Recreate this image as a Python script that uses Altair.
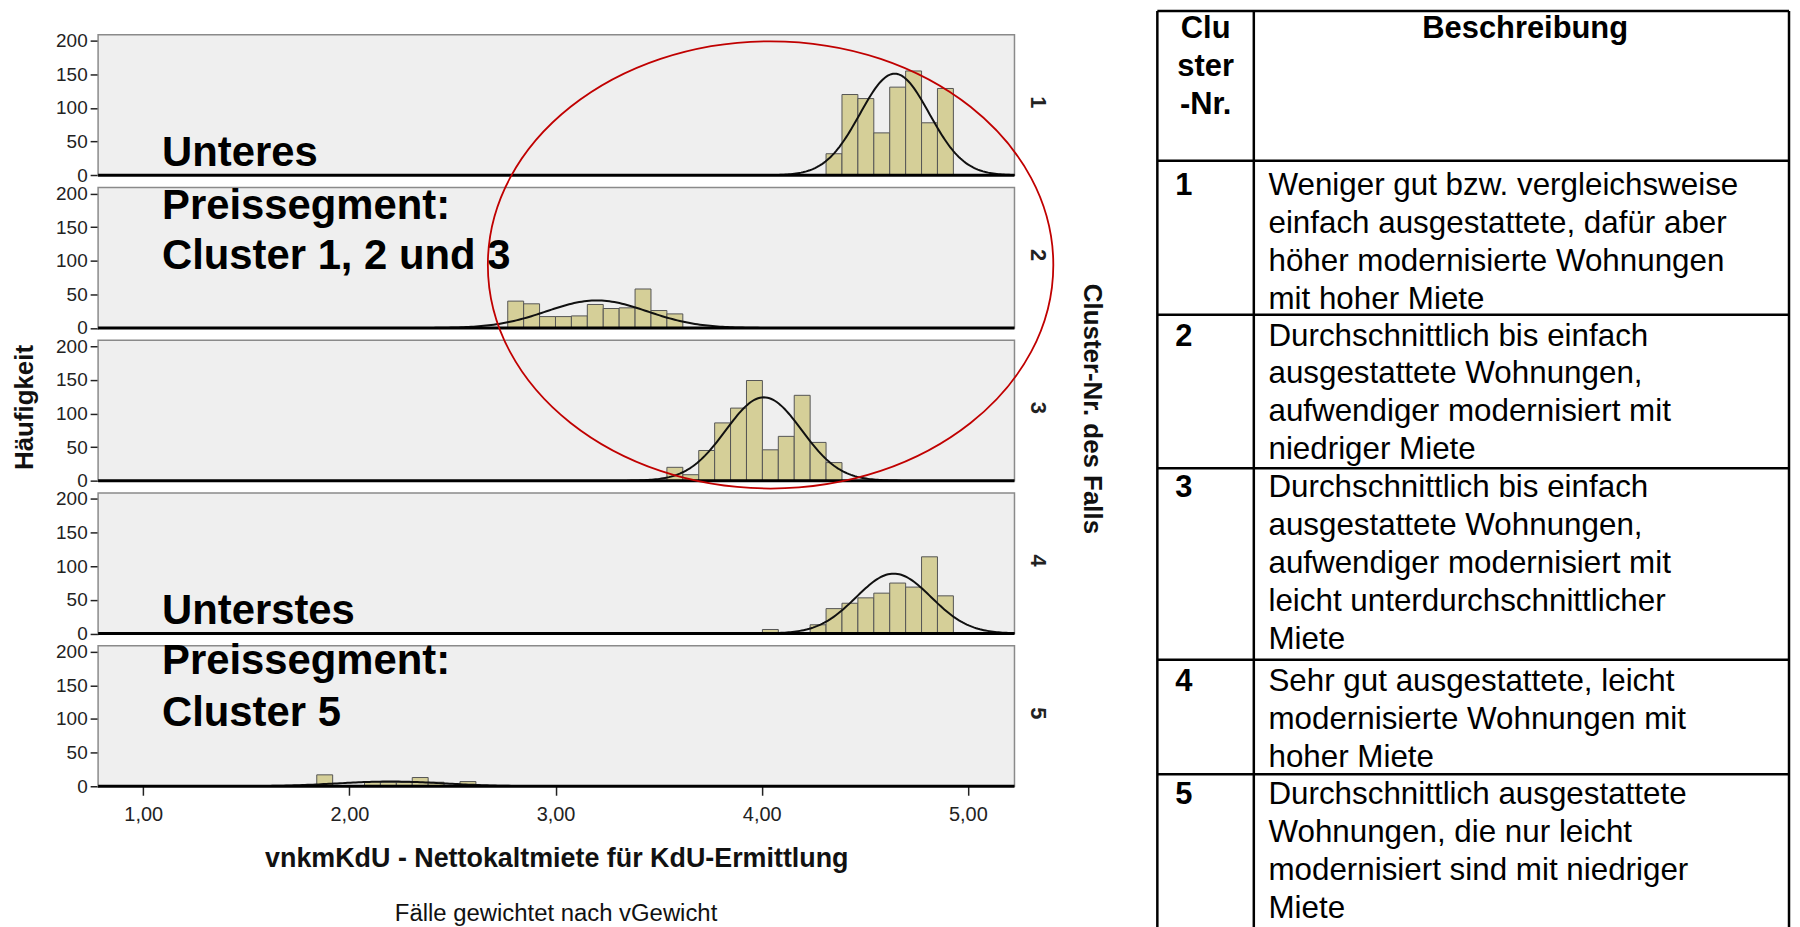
import altair as alt
import pandas as pd
import numpy as np

# ---------------- data ----------------
clusters = [1, 2, 3, 4, 5]

# histogram bins on a common grid: bin index -> lower edge = anchor + index * width
bin_width = 0.0772
bin_anchor = 3.540

c1_bins = [10, 11, 12, 13, 14, 15, 16, 17]
c1_counts = [32, 120, 114, 63, 131, 155, 78, 129]
c2_bins = [-10, -9, -8, -7, -6, -5, -4, -3, -2, -1, 0]
c2_counts = [40, 36, 17, 17, 18, 35, 29, 30, 58, 26, 21]
c3_bins = [0, 1, 2, 3, 4, 5, 6, 7, 8, 9, 10]
c3_counts = [20, 9, 45, 86, 108, 149, 46, 66, 127, 57, 27]
c4_bins = [6, 9, 10, 11, 12, 13, 14, 15, 16, 17]
c4_counts = [6, 13, 37, 45, 53, 60, 75, 69, 114, 56]
c5_bins = [-22, -19, -18, -17, -16, -15, -13]
c5_counts = [17, 7, 6, 6, 13, 6, 7]

# fitted normal curves (mean, sd, peak height)
curve_mean = [4.645, 3.20, 4.01, 4.64, 2.20]
curve_sd = [0.168, 0.244, 0.184, 0.182, 0.26]
curve_peak = [151, 41, 124, 89, 7]

x_ticks = [1, 2, 3, 4, 5]
y_ticks = [0, 50, 100, 150, 200]

x_title = "vnkmKdU - Nettokaltmiete für KdU-Ermittlung"
y_title = "Häufigkeit"
row_title = "Cluster-Nr.  des Falls"
footnote = "Fälle gewichtet nach vGewicht"

note_upper = ["Unteres", "Preissegment:", "Cluster 1, 2 und 3"]
note_lower = ["Unterstes", "Preissegment:", "Cluster 5"]

table_head_nr = ["Clu", "ster", "-Nr."]
table_head_desc = "Beschreibung"
table_nr = ["1", "2", "3", "4", "5"]
table_desc = [
    ["Weniger gut bzw. vergleichsweise", "einfach ausgestattete, dafür aber",
     "höher modernisierte Wohnungen", "mit hoher Miete"],
    ["Durchschnittlich bis einfach", "ausgestattete Wohnungen,",
     "aufwendiger modernisiert mit", "niedriger Miete"],
    ["Durchschnittlich bis einfach", "ausgestattete Wohnungen,",
     "aufwendiger modernisiert mit", "leicht unterdurchschnittlicher", "Miete"],
    ["Sehr gut ausgestattete, leicht", "modernisierte Wohnungen mit", "hoher Miete"],
    ["Durchschnittlich ausgestattete", "Wohnungen, die nur leicht",
     "modernisiert sind mit niedriger", "Miete"],
]

# ---------------- layout ----------------
FONT = "Liberation Sans, Arial, sans-serif"
STEP = 227          # vertical stride of the panels, in count units
PTOP = 209          # top of each panel, in count units
W, H = 920.5, 755
OX, OY = 98.5, 32.7  # page position of the plot origin
XDOM = [0.781, 5.226]
YDOM = [0, 4 * STEP + PTOP]


def off(c):
    return (5 - c) * STEP


bins_all = [c1_bins, c2_bins, c3_bins, c4_bins, c5_bins]
counts_all = [c1_counts, c2_counts, c3_counts, c4_counts, c5_counts]

bar_rows = []
for c, bl, cl in zip(clusters, bins_all, counts_all):
    for b, n in zip(bl, cl):
        x0 = bin_anchor + b * bin_width
        bar_rows.append(dict(cluster=c, x0=x0, x1=x0 + bin_width,
                             ytop=off(c) + n, ybase=off(c)))
bars_df = pd.DataFrame(bar_rows)

curve_rows = []
for c, m, s, p in zip(clusters, curve_mean, curve_sd, curve_peak):
    for t in np.linspace(-3.6, 3.6, 145):
        curve_rows.append(dict(cluster=c, cx=m + t * s,
                               cy=off(c) + p * np.exp(-0.5 * t * t)))
curve_df = pd.DataFrame(curve_rows)

panel_df = pd.DataFrame(dict(cluster=clusters,
                             off=[off(c) for c in clusters],
                             top=[off(c) + PTOP for c in clusters],
                             mid=[off(c) + PTOP / 2 + 4 for c in clusters]))

xs = alt.Scale(domain=XDOM, nice=False, zero=False)
ys = alt.Scale(domain=YDOM, nice=False, zero=False)

x_axis = alt.Axis(values=x_ticks,
                  labelExpr="replace(format(datum.value, '.2f'), '.', ',')",
                  title=x_title, domain=False, grid=False,
                  tickSize=9, tickWidth=1.5, tickColor="#222",
                  labelPadding=9, labelFontSize=20, labelFont=FONT,
                  labelColor="#222", labelFlush=False, labelOverlap=False,
                  titleFont=FONT, titleFontSize=27, titleFontWeight="bold",
                  titleColor="#111", titleY=73, titleBaseline="middle")
y_axis = alt.Axis(values=[off(c) + v for c in clusters for v in y_ticks],
                  labelExpr="'' + (datum.value % 227)",
                  title=y_title, domain=False, grid=False,
                  tickSize=8, tickWidth=1.5, tickColor="#222",
                  labelPadding=3, labelFontSize=19, labelFont=FONT,
                  labelColor="#222", labelFlush=False, labelOverlap=False,
                  titleFont=FONT, titleFontSize=26, titleFontWeight="bold",
                  titleColor="#111", titleAngle=270, titleX=-73.5, titleY=374,
                  titleBaseline="middle", titleAlign="center")

bg = alt.Chart(panel_df).mark_rect(fill="#efefef", stroke="#8a8a8a", strokeWidth=1.5).encode(
    x=alt.value(0), x2=alt.value(W),
    y=alt.Y("top:Q", scale=ys, axis=y_axis), y2="off:Q")

bars = alt.Chart(bars_df).mark_rect(fill="#d5cf98", stroke="#555555", strokeWidth=1).encode(
    x=alt.X("x0:Q", scale=xs, axis=x_axis), x2="x1:Q",
    y=alt.Y("ytop:Q", scale=ys, axis=y_axis), y2="ybase:Q")

curves = alt.Chart(curve_df).mark_line(color="#111111", strokeWidth=2, clip=True).encode(
    x=alt.X("cx:Q", scale=xs, axis=x_axis),
    y=alt.Y("cy:Q", scale=ys, axis=y_axis),
    detail="cluster:N")

baseline = alt.Chart(panel_df).mark_rule(color="black", strokeWidth=3).encode(
    x=alt.value(0), x2=alt.value(W),
    y=alt.Y("off:Q", scale=ys, axis=y_axis))

row_labels = alt.Chart(panel_df).mark_text(angle=90, font=FONT, fontSize=22, fontWeight="bold",
                                           color="#222").encode(
    x=alt.value(944),
    y=alt.Y("mid:Q", scale=ys, axis=y_axis),
    text="cluster:N")

# annotations (page baselines -> plot-relative pixels)
note_df = pd.DataFrame(dict(
    text=note_upper + note_lower,
    px=[162.7 - OX] * 6,
    py=[b - OY for b in [165, 218.3, 268.3, 625, 675, 726.7]]))
notes = alt.Chart(note_df).mark_text(align="left", baseline="alphabetic", font=FONT,
                                     fontSize=42, fontWeight="bold", color="black").encode(
    x=alt.X("px:Q", scale=None, axis=None),
    y=alt.Y("py:Q", scale=None, axis=None),
    text="text:N")

# table geometry (page coords)
t_left, t_sep, t_right = 1162.5, 1259.4, 1797
t_hlines = [9, 159.3, 314, 468.3, 660.7, 775.7]
first_line = [185, 336, 488.5, 683, 797]
LH = 38.0

rule_rows = []
for xv in [t_left, t_sep, t_right]:
    rule_rows.append(dict(x=xv - OX, x2=xv - OX, y=t_hlines[0] - OY, y2=960 - OY))
for yv in t_hlines:
    rule_rows.append(dict(x=t_left - OX, x2=t_right - OX, y=yv - OY, y2=yv - OY))
rules_df = pd.DataFrame(rule_rows)
table_rules = alt.Chart(rules_df).mark_rule(color="black", strokeWidth=2.5).encode(
    x=alt.X("x:Q", scale=None, axis=None), x2="x2:Q",
    y=alt.Y("y:Q", scale=None, axis=None), y2="y2:Q")

head_df = pd.DataFrame(dict(
    text=table_head_nr + [table_head_desc],
    px=[1211 - OX] * 3 + [1532 - OX],
    py=[26.7 - OY, 65 - OY, 103.3 - OY, 26.7 - OY]))
head_text = alt.Chart(head_df).mark_text(align="center", baseline="middle", font=FONT,
                                         fontSize=31, fontWeight="bold", color="black").encode(
    x=alt.X("px:Q", scale=None, axis=None),
    y=alt.Y("py:Q", scale=None, axis=None),
    text="text:N")

nr_df = pd.DataFrame(dict(text=table_nr,
                          px=[1180.4 - OX] * 5,
                          py=[f - OY for f in first_line]))
nr_text = alt.Chart(nr_df).mark_text(align="left", baseline="middle", font=FONT,
                                     fontSize=31, fontWeight="bold", color="black").encode(
    x=alt.X("px:Q", scale=None, axis=None),
    y=alt.Y("py:Q", scale=None, axis=None),
    text="text:N")

desc_rows = []
for f, lines in zip(first_line, table_desc):
    for i, line in enumerate(lines):
        desc_rows.append(dict(text=line, px=1274.1 - OX, py=f + i * LH - OY))
desc_df = pd.DataFrame(desc_rows)
desc_text = alt.Chart(desc_df).mark_text(align="left", baseline="middle", font=FONT,
                                         fontSize=31.5, color="black").encode(
    x=alt.X("px:Q", scale=None, axis=None),
    y=alt.Y("py:Q", scale=None, axis=None),
    text="text:N")

one = pd.DataFrame(dict(a=[0]))
row_title_mark = alt.Chart(one).mark_text(angle=90, align="center", baseline="middle", font=FONT,
                                          fontSize=26, fontWeight="bold", color="#111",
                                          text=row_title).encode(
    x=alt.value(1097 - OX), y=alt.value(376))
foot_mark = alt.Chart(one).mark_text(align="center", baseline="middle", font=FONT,
                                     fontSize=24, color="#111", text=footnote).encode(
    x=alt.value(460), y=alt.value(916 - OY))

# red ellipse (annotation), drawn as a custom symbol path
ry = 227 / 287
k = 0.5523
path = (f"M -1 0 C -1 {-k*ry:.4f} {-k:.4f} {-ry:.4f} 0 {-ry:.4f} "
        f"C {k:.4f} {-ry:.4f} 1 {-k*ry:.4f} 1 0 "
        f"C 1 {k*ry:.4f} {k:.4f} {ry:.4f} 0 {ry:.4f} "
        f"C {-k:.4f} {ry:.4f} -1 {k*ry:.4f} -1 0 Z")
ellipse = alt.Chart(one).mark_point(shape=path, size=(2 * 284) ** 2, filled=False,
                                    stroke="#c00000", strokeWidth=1.8, opacity=1).encode(
    x=alt.value(774 - OX), y=alt.value(264 - OY))

chart = alt.layer(
    bg, bars, curves, baseline, row_labels, notes,
    table_rules, head_text, nr_text, desc_text,
    row_title_mark, foot_mark, ellipse
).properties(
    width=W, height=H,
    padding={"left": 90.5, "top": 24.7, "right": 1792 - 90.5 - W, "bottom": 919 - 24.7 - H},
    autosize=alt.AutoSizeParams(type="none"),
    background="white",
).configure_view(stroke=None)

chart.save("out.html", embed_options={"renderer": "svg", "actions": False})
